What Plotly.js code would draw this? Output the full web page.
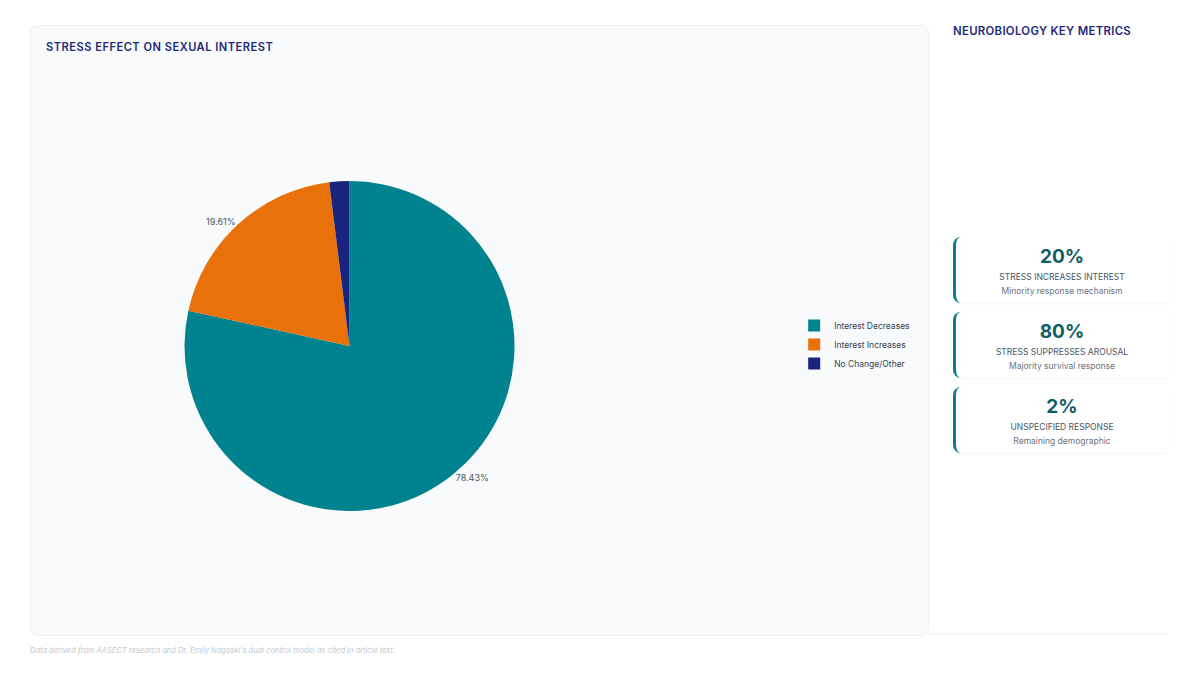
<!DOCTYPE html>
<html>
<head>
<meta charset="utf-8">
<script src="https://cdn.plot.ly/plotly-3.0.1.min.js"></script>
<style>
  html, body { margin:0; padding:0; width:1200px; height:675px; background:#ffffff; font-family: Inter, "Noto Sans", sans-serif; overflow:hidden; }
  #card { position:absolute; left:30px; top:25px; width:897px; height:609px; background:#f8fafc; border:1px solid #eef1f5; border-radius:8px; }
  #title { position:absolute; left:46px; top:40px; font-size:11.1px; font-weight:600; color:#1e2a78; letter-spacing:0.5px; z-index:2; }
  #plot { position:absolute; left:30px; top:25px; width:898px; height:610px; }
  #side-title { position:absolute; left:953px; top:24px; font-size:11.4px; font-weight:600; color:#1e2a78; letter-spacing:0.3px; }
  .mcard { position:absolute; left:953px; width:212px; height:66px; background:#ffffff; border-left:3px solid #0e7c86; border-radius:8px 0 0 8px; box-shadow:0 1px 2px rgba(0,0,0,0.04); text-align:center; }
  .mcard .num { font-size:19px; font-weight:700; color:#0f5e63; margin-top:9px; line-height:22px; }
  .mcard .lab { font-size:8.5px; color:#4b5563; margin-top:3px; line-height:12px; }
  .mcard .sub { font-size:8.5px; color:#6b7280; margin-top:2px; line-height:12px; }
  #sideline { position:absolute; left:928px; top:634px; width:240px; height:1px; background:#eef1f5; }
  #footer { position:absolute; left:30px; top:646px; font-size:7.5px; font-style:italic; color:#c3c7ce; }
</style>
</head>
<body>
<div id="card"></div>
<div id="plot"></div>
<div id="title">STRESS EFFECT ON SEXUAL INTEREST</div>
<div id="side-title">NEUROBIOLOGY KEY METRICS</div>
<div id="metrics"></div>
<div id="sideline"></div>
<div id="footer">Data derived from AASECT research and Dr. Emily Nagoski's dual control model as cited in article text.</div>
<script>
const labels = ["Interest Decreases", "Interest Increases", "No Change/Other"];
const values = [80, 20, 2];
const colors = ["#00838f", "#e8710a", "#1a237e"];

const metricValues = ["20%", "80%", "2%"];
const metricLabels = ["STRESS INCREASES INTEREST", "STRESS SUPPRESSES AROUSAL", "UNSPECIFIED RESPONSE"];
const metricSubs = ["Minority response mechanism", "Majority survival response", "Remaining demographic"];

const metricTops = [237, 312, 387];
const m = document.getElementById('metrics');
metricValues.forEach((v, i) => {
  const d = document.createElement('div');
  d.className = 'mcard';
  d.style.top = metricTops[i] + 'px';
  d.innerHTML = '<div class="num">' + v + '</div><div class="lab">' + metricLabels[i] + '</div><div class="sub">' + metricSubs[i] + '</div>';
  m.appendChild(d);
});

const W = 898, H = 610;
const cx = 319.5, cy = 321, r = 165;
Plotly.newPlot('plot', [{
  type: 'pie',
  labels: labels,
  values: values,
  marker: { colors: colors, line: { width: 0 } },
  sort: false,
  direction: 'clockwise',
  rotation: 0,
  texttemplate: '%{percent:.2%}',
  textposition: ['outside', 'outside', 'none'],
  outsidetextfont: { family: 'Inter, sans-serif', size: 9, color: '#4b5563' },
  hoverinfo: 'label+percent',
  domain: { x: [(cx - r) / W, (cx + r) / W], y: [1 - (cy + r) / H, 1 - (cy - r) / H] }
}], {
  width: W, height: H,
  margin: { l: 0, r: 0, t: 0, b: 0 },
  paper_bgcolor: 'rgba(0,0,0,0)',
  plot_bgcolor: 'rgba(0,0,0,0)',
  showlegend: true,
  legend: { x: 0.851, xanchor: 'left', y: 0.531, yanchor: 'top', font: { family: 'Inter, sans-serif', size: 8.5, color: '#374151' }, bgcolor: 'rgba(0,0,0,0)' },
  font: { family: 'Inter, sans-serif' }
}, { displayModeBar: false, staticPlot: true });
</script>
</body>
</html>
